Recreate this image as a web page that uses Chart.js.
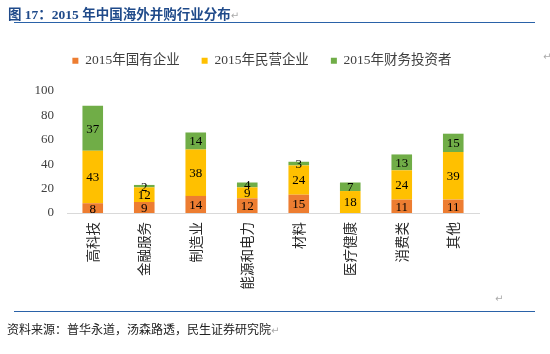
<!DOCTYPE html>
<html>
<head>
<meta charset="utf-8">
<script src="https://cdn.jsdelivr.net/npm/chart.js@4"></script>
<style>
  body { margin: 0; background: #fff; }
  #wrap { position: relative; width: 550px; height: 354px; overflow: hidden; }
  #chart { position: absolute; left: 0; top: 0; }
  .title { position: absolute; left: 8px; top: 3px; font: bold 13.5px "Liberation Serif", "Noto Sans CJK SC", serif; color: #1F4A8A; white-space: nowrap; }
  .rule { position: absolute; left: 14px; width: 521px; height: 1px; background: #2A62A8; }
  .source { position: absolute; left: 7px; top: 320px; font: 12px "Noto Sans CJK SC", sans-serif; color: #222; white-space: nowrap; }
  .mark { color: #aaa; font: 10px "DejaVu Sans", sans-serif; }
  .pmark { position: absolute; color: #aaa; font: 10px "DejaVu Sans", sans-serif; }
</style>
</head>
<body>
<div id="wrap">
  <canvas id="chart" width="550" height="354"></canvas>
  <div class="title">图 17：2015 年中国海外并购行业分布<span class="mark">↵</span></div>
  <div class="rule" style="top:22px"></div>
  <div class="pmark" style="left:543px; top:51px">↵</div>
  <div class="pmark" style="left:495px; top:293px">↵</div>
  <div class="rule" style="top:311px"></div>
  <div class="source">资料来源：普华永道，汤森路透，民生证券研究院<span class="mark">↵</span></div>
</div>
<script>
// chart data
const categories = ['高科技', '金融服务', '制造业', '能源和电力', '材料', '医疗健康', '消费类', '其他'];
const seriesNames = ['2015年国有企业', '2015年民营企业', '2015年财务投资者'];
const stateOwned = [8, 9, 14, 12, 15, 0, 11, 11];
const privateOwned = [43, 12, 38, 9, 24, 18, 24, 39];
const financial = [37, 2, 14, 4, 3, 7, 13, 15];
const yTicks = [0, 20, 40, 60, 80, 100];

const colors = ['#ED7D31', '#FFC000', '#70AD47'];
const labelFont = '"Liberation Serif", "Noto Sans CJK SC", serif';

// writes the value in the middle of each stacked segment
const segmentLabels = {
    id: 'segmentLabels',
    afterDatasetsDraw(chart) {
        const ctx = chart.ctx;
        ctx.save();
        ctx.font = '13px ' + labelFont;
        ctx.fillStyle = '#000';
        ctx.textAlign = 'center';
        ctx.textBaseline = 'middle';
        chart.data.datasets.forEach((ds, i) => {
            const meta = chart.getDatasetMeta(i);
            meta.data.forEach((bar, j) => {
                const v = ds.data[j];
                if (!v) return;
                ctx.fillText(String(v), bar.x, (bar.y + bar.base) / 2 + 1);
            });
        });
        ctx.restore();
    }
};

const seriesData = [stateOwned, privateOwned, financial];

new Chart(document.getElementById('chart'), {
    type: 'bar',
    data: {
        labels: categories,
        datasets: seriesNames.map((name, i) => ({
            label: name,
            data: seriesData[i],
            backgroundColor: colors[i],
            borderWidth: 0,
            categoryPercentage: 1,
            barPercentage: 0.4
        }))
    },
    options: {
        responsive: false,
        animation: false,
        layout: { padding: { left: 0, right: 26, top: 32, bottom: 40 } },
        plugins: {
            legend: {
                position: 'top',
                weight: 3000,
                labels: {
                    boxWidth: 6,
                    boxHeight: 6,
                    padding: 22,
                    color: '#404040',
                    font: { family: labelFont, size: 13.5 }
                }
            },
            // empty title used as a gap between legend and plot
            title: {
                display: true,
                text: '',
                weight: 500,
                font: { size: 1, lineHeight: 1 },
                padding: { top: 0, bottom: 12.5 }
            },
            tooltip: { enabled: false }
        },
        scales: {
            x: {
                stacked: true,
                grid: { display: false, drawTicks: false },
                border: { display: true, color: '#D9D9D9', width: 1 },
                ticks: {
                    autoSkip: false,
                    minRotation: 90,
                    maxRotation: 90,
                    padding: 9,
                    color: '#262626',
                    font: { family: '"Noto Sans CJK SC", sans-serif', size: 13.5 }
                },
                afterFit: s => { s.height = 101; }
            },
            y: {
                stacked: true,
                min: 0,
                max: 100,
                grid: { display: false, drawTicks: false },
                border: { display: false },
                ticks: {
                    stepSize: 20,
                    padding: 13,
                    color: '#404040',
                    font: { family: labelFont, size: 13 }
                },
                afterBuildTicks: s => { s.ticks = yTicks.map(v => ({ value: v })); },
                afterFit: s => { s.width = 67; }
            },
            // blank right-hand space so the legend sits where the original has it
            yRight: {
                position: 'right',
                min: 0,
                max: 100,
                grid: { display: false, drawTicks: false },
                border: { display: false },
                ticks: { display: false },
                afterFit: s => { s.width = 45; }
            }
        }
    },
    plugins: [segmentLabels]
});
</script>
</body>
</html>
